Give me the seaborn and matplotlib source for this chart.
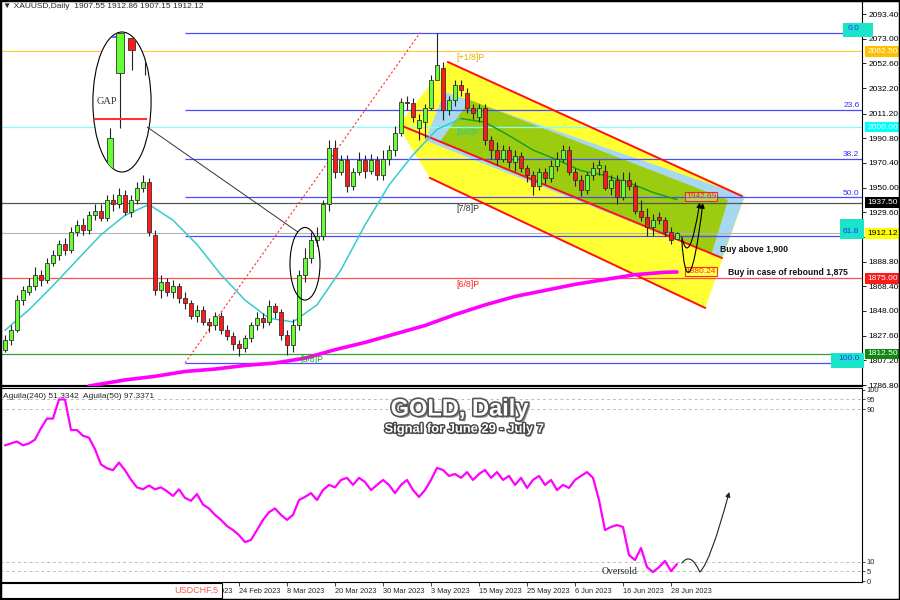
import numpy as np
import pandas as pd
import matplotlib
matplotlib.use("Agg")
import matplotlib.pyplot as plt
import matplotlib.patheffects as pe
from matplotlib.patches import Ellipse, Polygon, Rectangle, FancyArrowPatch
from matplotlib.path import Path
import seaborn as sns

# ---------------- data ----------------
opens = [1816, 1824, 1832, 1857, 1864, 1869, 1878, 1874, 1888, 1894,
         1903, 1898, 1913, 1919, 1915, 1927, 1931, 1925, 1940, 1936,
         1944, 1930, 1940, 1950, 1955, 1911, 1865, 1872, 1864, 1869,
         1859, 1855, 1844, 1849, 1839, 1836, 1844, 1832, 1827, 1821,
         1817, 1826, 1836, 1842, 1839, 1852, 1847, 1828, 1820, 1836,
         1878, 1892, 1907, 1910, 1936, 1983, 1963, 1973, 1951, 1963,
         1973, 1964, 1973, 1960, 1974, 1981, 1995, 2021, 2020, 1999,
         2004, 2016, 2039, 2049, 2014, 2022, 2035, 2028, 2016, 2008,
         2016, 1989, 1981, 1974, 1981, 1971, 1976, 1966, 1960, 1951,
         1963, 1958, 1968, 1974, 1981, 1963, 1956, 1948, 1960, 1966,
         1964, 1950, 1956, 1942, 1956, 1951, 1931, 1926, 1917, 1926,
         1923, 1913, 1907.55]
highs = [1828, 1836, 1861, 1869, 1875, 1884, 1882, 1892, 1898, 1907,
         1908, 1917, 1923, 1925, 1931, 1936, 1936, 1944, 1945, 1950,
         1948, 1944, 1955, 1960, 1958, 1915, 1878, 1875, 1874, 1871,
         1864, 1857, 1853, 1852, 1842, 1847, 1847, 1836, 1831, 1824,
         1828, 1839, 1847, 1846, 1857, 1855, 1850, 1832, 1841, 1882,
         1900, 1913, 1917, 1940, 1989, 1989, 1977, 1977, 1966, 1979,
         1977, 1978, 1976, 1981, 1985, 2001, 2024, 2026, 2024, 2011,
         2019, 2043, 2078, 2054, 2026, 2039, 2039, 2032, 2019, 2019,
         2019, 1993, 1988, 1985, 1984, 1981, 1979, 1969, 1964, 1966,
         1966, 1973, 1979, 1985, 1984, 1966, 1960, 1963, 1971, 1973,
         1969, 1960, 1960, 1963, 1963, 1955, 1940, 1933, 1928, 1930,
         1926, 1917, 1912.86]
lows = [1814, 1820, 1831, 1853, 1861, 1865, 1869, 1871, 1885, 1890,
        1894, 1896, 1910, 1911, 1912, 1923, 1922, 1922, 1931, 1933,
        1927, 1926, 1936, 1946, 1910, 1861, 1859, 1860, 1859, 1855,
        1850, 1841, 1839, 1836, 1831, 1832, 1829, 1824, 1816, 1811,
        1814, 1822, 1832, 1834, 1836, 1842, 1824, 1812, 1814, 1832,
        1872, 1888, 1902, 1907, 1931, 1958, 1960, 1946, 1948, 1960,
        1958, 1961, 1956, 1956, 1969, 1976, 1993, 2014, 2004, 1989,
        1991, 2014, 2039, 2006, 2010, 2017, 2026, 2012, 2007, 2004,
        1985, 1974, 1969, 1971, 1966, 1964, 1963, 1955, 1944, 1948,
        1953, 1955, 1964, 1971, 1960, 1951, 1943, 1945, 1956, 1960,
        1948, 1944, 1936, 1940, 1948, 1928, 1922, 1910, 1910, 1920,
        1910, 1903, 1907.15]
closes = [1824, 1832, 1857, 1865, 1869, 1878, 1874, 1888, 1894, 1903,
          1898, 1913, 1919, 1915, 1927, 1931, 1925, 1940, 1936, 1944,
          1930, 1940, 1950, 1955, 1913, 1865, 1872, 1864, 1869, 1859,
          1855, 1844, 1849, 1839, 1836, 1844, 1832, 1827, 1821, 1817,
          1826, 1836, 1842, 1839, 1852, 1847, 1828, 1820, 1836, 1878,
          1892, 1907, 1910, 1936, 1983, 1963, 1973, 1951, 1963, 1973,
          1964, 1973, 1960, 1974, 1981, 1995, 2021, 2020, 2008, 2006,
          2016, 2039, 2051, 2014, 2022, 2035, 2031, 2016, 2012, 2016,
          1989, 1981, 1974, 1981, 1971, 1976, 1966, 1960, 1951, 1963,
          1958, 1968, 1974, 1981, 1963, 1956, 1948, 1960, 1966, 1969,
          1950, 1956, 1942, 1956, 1951, 1931, 1926, 1917, 1923, 1923,
          1913, 1907, 1912.12]

# moving averages (sampled every few bars)
ma_fast_bars = [0, 4, 8, 12, 16, 20, 24, 28, 32, 36, 40, 44, 48, 52, 56,
                60, 64, 68, 72, 76, 80, 84, 88, 92, 96, 100, 104, 108, 112]
ma_fast = [1832, 1849, 1869, 1890, 1911, 1927, 1936, 1923, 1903, 1878, 1857,
           1842, 1839, 1853, 1882, 1919, 1952, 1977, 1998, 2007, 2004, 1993,
           1981, 1973, 1964, 1960, 1954, 1946, 1940]
ma_slow_bars = [14, 20, 25, 30, 35, 40, 45, 50, 55, 60, 65, 70, 75, 80, 85,
                90, 95, 100, 105, 110, 112]
ma_slow = [1786, 1791, 1794, 1798, 1800, 1803, 1805, 1809, 1816, 1822, 1829,
           1836, 1845, 1853, 1860, 1865, 1870, 1874, 1878, 1880, 1880.24]

# Aguila oscillator, one value per bar
aguila = [71, 72, 73, 71, 72, 74, 80, 85, 85, 95,
          95, 79, 79, 76, 75, 69, 61, 59, 58, 62,
          58, 53, 49, 48, 50, 48, 49, 47, 44.5, 48,
          43.5, 42, 45.5, 40, 38, 34.6, 32, 28.8, 26.7, 24,
          20.4, 21.5, 26.7, 32, 36, 38, 34.6, 32, 34.6, 42.4,
          44, 46, 42.4, 47.6, 50.3, 49, 52.9, 54, 50.3, 54,
          51.8, 47.6, 50.3, 52.9, 50.3, 46, 50.3, 52.9, 47.6, 44,
          47.6, 52.9, 59.2, 58.1, 55, 56, 54, 57, 52.9, 56,
          58.1, 54, 57, 52.9, 55, 50.3, 54, 48.7, 52.9, 55,
          50.3, 52.9, 47.6, 50.3, 48.7, 52.9, 55, 57, 54, 42.4,
          26.7, 28.3, 29.3, 28.3, 13.6, 11, 17.3, 7.3, 4.7, 7.3,
          10.5, 5.2, 8.9]

date_ticks = [31, 39, 47, 55, 63, 71, 79, 87, 95, 103, 111]
date_labels = ["14 Feb 2023", "24 Feb 2023", "8 Mar 2023", "20 Mar 2023",
               "30 Mar 2023", "3 May 2023", "15 May 2023", "25 May 2023",
               "6 Jun 2023", "16 Jun 2023", "28 Jun 2023"]
price_ticks = [2093.40, 2073.00, 2052.60, 2032.20, 2011.20, 1990.80, 1970.40,
               1950.00, 1929.60, 1909.20, 1888.80, 1868.40, 1848.00, 1827.60,
               1807.20, 1786.80]
osc_ticks = [0, 5, 10, 90, 95, 100]

fib_labels = ["0.0", "23.6", "38.2", "50.0", "61.8", "100.0"]
fib_prices = [2078, 2014, 1974, 1942, 1910, 1805]
murrey_labels = ["[+1/8]P", "[8/8]P", "[7/8]P", "[6/8]P", "[5/8]P"]
murrey_prices = [2062.50, 2000.00, 1937.50, 1875.00, 1812.50]

# drawing objects on the price chart (bar index, price)
yellow_zone = [(73.8, 2053.8), (123.3, 1943.0), (116.7, 1850.5), (70.8, 1958.0), (65.5, 2001.0)]
blue_zone = [(70.0, 1989.0), (73.3, 2029.0), (123.3, 1943.0), (119.5, 1891.8)]
green_zone = [(72.5, 1988.0), (77.5, 2022.4), (120.5, 1939.7), (117.8, 1895.9)]
channel_lines = [[(73.8, 2053.8), (122.8, 1943.0)],
                 [(65.8, 2001.7), (119.5, 1891.8)],
                 [(70.8, 1958.0), (116.7, 1850.5)]]

# ---------------- figure ----------------
sns.set_theme(style="white")
plt.rcParams["font.family"] = ["Liberation Sans", "DejaVu Sans"]

df = pd.DataFrame({"open": opens, "high": highs, "low": lows, "close": closes})
df["bar"] = np.arange(len(df))
up = df["close"] >= df["open"]

fig = plt.figure(figsize=(9, 6), dpi=100)
fig.patch.set_facecolor("white")
ax = fig.add_axes([0.0, 1 - 386 / 600, 862 / 900, 386 / 600])
axi = fig.add_axes([0.0, 1 - 582 / 600, 862 / 900, 194 / 600])

XMIN, XMAX = -0.83, 142.83
ax.set_xlim(XMIN, XMAX)
axi.set_xlim(XMIN, XMAX)
ax.set_ylim(1786.0, 2105.0)
axi.set_ylim(-0.5, 101.0)

# channel fills
ax.add_patch(Polygon(yellow_zone, closed=True, fc="#ffff33", ec="none", zorder=1))
ax.add_patch(Polygon(blue_zone, closed=True, fc="#a8d8f0", ec="none", zorder=1.1))
ax.add_patch(Polygon(green_zone, closed=True, fc="#9ccc10", ec="none", zorder=1.2))

# murrey / fib / level lines
murrey_colors = ["#ffcc44", "#7fffff", "#555555", "#ff5050", "#33a033"]
for p, col in zip(murrey_prices, murrey_colors):
    ax.axhline(p, color=col, lw=0.9, zorder=2)
ax.axhline(closes[-1], color="#b4b4b4", lw=0.8, zorder=2)
for p in fib_prices:
    ax.hlines(p, 30, XMAX, color="#4a4aff", lw=0.9, zorder=2)
ax.plot([30, 69.2], [fib_prices[-1], fib_prices[0]], ls=(0, (2, 2)),
        color="#ff3030", lw=0.8, zorder=2)

for seg in channel_lines:
    (x0, y0), (x1, y1) = seg
    ax.plot([x0, x1], [y0, y1], color="#ff1010", lw=1.4, zorder=3)

# moving averages
sns.lineplot(x=ma_fast_bars[:20], y=ma_fast[:20], ax=ax, color="#33cccc", lw=1.1, zorder=3)
sns.lineplot(x=ma_fast_bars[19:], y=ma_fast[19:], ax=ax, color="#1e9e1e", lw=1.1, zorder=3)
sns.lineplot(x=ma_slow_bars, y=ma_slow, ax=ax, color="#ff00ff", lw=2.6, zorder=3)

# candles
ax.vlines(df["bar"], df["low"], df["high"], color="#222222", lw=0.8, zorder=4)
ax.bar(df["bar"][up], (df["close"] - df["open"])[up].clip(lower=0.6),
       bottom=df["open"][up], width=0.62, color="#66ff33",
       edgecolor="#333333", lw=0.6, zorder=5)
ax.bar(df["bar"][~up], (df["open"] - df["close"])[~up].clip(lower=0.6),
       bottom=df["close"][~up], width=0.62, color="#ff1a1a",
       edgecolor="#333333", lw=0.6, zorder=5)

# murrey labels
mx = [75.2, 75.2, 75.2, 75.2, 49.2]
for lab, p, col, x in zip(murrey_labels, murrey_prices,
                          ["#e0b000", "#30c890", "#333333", "#ff2020", "#22a022"], mx):
    ax.text(x, p - 1, lab, color=col, fontsize=6.3, ha="left", va="top", zorder=8)

# fib labels
for lab, p in zip(fib_labels, fib_prices):
    if lab in ("0.0", "61.8", "100.0"):
        w = {"0.0": 5.0, "61.8": 4.0, "100.0": 5.5}[lab]
        lo = {"0.0": -3.6, "61.8": -2.5, "100.0": -4.1}[lab]
        hi = {"0.0": 8.0, "61.8": 14.0, "100.0": 8.3}[lab]
        ax.add_patch(Rectangle((143.2 - w + (1.5 if lab == "0.0" else 0), p + lo), w, hi - lo,
                               fc="#19e6c8", ec="none", zorder=8, clip_on=False))
    ax.text(142.4, p + 0.6, lab, color="#3030ff", fontsize=6, ha="right",
            va="bottom", zorder=9)

# right axis price labels
ax.yaxis.tick_right()
ax.set_yticks(price_ticks)
ax.set_yticklabels([f"{p:.2f}" for p in price_ticks])
ax.tick_params(axis="y", labelsize=6, length=3, width=0.6, pad=1.5,
               colors="black", right=True, direction="out")
ax.set_xticks([])

tr = ax.get_yaxis_transform()
boxes = [(2062.50, "2062.50", "#ffc000", "white"),
         (2000.00, "2000.00", "#00ffff", "white"),
         (1937.50, "1937.50", "black", "white"),
         (closes[-1], f"{closes[-1]:.2f}", "#ffff00", "black"),
         (1875.00, "1875.00", "#ff1a1a", "white"),
         (1812.50, "1812.50", "#118811", "white")]
for p, t, fc, tc in boxes:
    ax.text(1.006, p, t, transform=tr, fontsize=6, color=tc, ha="left",
            va="center", clip_on=False, zorder=20,
            bbox=dict(boxstyle="square,pad=0.22", fc=fc, ec="none"))

# GAP magnifier
gap_ell = Ellipse((19.5, 2020.7), 9.7, 115.7, fc="white", ec="black", lw=0.8, zorder=6)
ax.add_patch(gap_ell)
gap_parts = []
gap_parts.append(ax.hlines(2074.4, 16.7, 20.0, color="#4a4aff", lw=1.2, zorder=7))
gap_parts.append(ax.vlines(19.17, 1999.2, 2077.7, color="#222222", lw=0.8, zorder=7))
gap_parts.append(ax.add_patch(Rectangle((18.5, 2044.7), 1.33, 33.0, fc="#66ff33",
                                        ec="#333333", lw=0.6, zorder=8)))
gap_parts.append(ax.vlines(21.1, 2047.1, 2073.6, color="#222222", lw=0.8, zorder=7))
gap_parts.append(ax.add_patch(Rectangle((20.5, 2063.7), 1.2, 9.9, fc="#ff1a1a",
                                        ec="#333333", lw=0.6, zorder=8)))
gap_parts.append(ax.vlines(23.3, 2043.0, 2059.5, color="#222222", lw=0.8, zorder=7))
gap_parts.append(ax.vlines(17.5, 1966.2, 1999.2, color="#222222", lw=0.8, zorder=7))
gap_parts.append(ax.add_patch(Rectangle((17.0, 1966.2), 1.0, 24.7, fc="#66ff33",
                                        ec="#333333", lw=0.6, zorder=8)))
gap_parts.append(ax.hlines(2006.6, 13.8, 23.7, color="#ff3030", lw=1.5, zorder=7))
for art in gap_parts:
    art.set_clip_path(gap_ell)
ax.text(17.0, 2021, "GAP", family="Liberation Serif", fontsize=7.5,
        color="#333333", ha="center", va="center", zorder=9)
ax.plot([23.7, 48.8], [2000.0, 1913.3], color="#333333", lw=0.7, zorder=6)
ax.add_patch(Ellipse((50.0, 1887.0), 5.0, 60.0, fc="none", ec="black", lw=0.8, zorder=6))

# targets
ax.text(116.0, 1942.69, "1942.69", color="#e03030", fontsize=6, ha="center",
        va="center", zorder=9,
        bbox=dict(boxstyle="square,pad=0.12", fc=(1, 1, 1, 0.25), ec="#e03030", lw=0.8))
ax.text(116.0, 1880.24, "1880.24", color="#ff3300", fontsize=6, ha="center",
        va="center", zorder=9,
        bbox=dict(boxstyle="square,pad=0.12", fc=(1, 1, 1, 0.2), ec="#ff3300", lw=0.8))
ax.text(119.2, 1898.4, "Buy above 1,900", fontsize=6.2, weight="bold",
        color="#111111", ha="left", va="center", zorder=9)
ax.text(120.5, 1879.4, "Buy in case of rebound 1,875", fontsize=6.2,
        weight="bold", color="#111111", ha="left", va="center", zorder=9)

arrow1 = Path([(112.8, 1909.0), (114.0, 1882.0), (115.8, 1937.5)],
              [Path.MOVETO, Path.CURVE3, Path.CURVE3])
arrow2 = Path([(112.8, 1906.7), (113.3, 1868.0), (114.6, 1866.0), (116.3, 1937.2)],
              [Path.MOVETO, Path.CURVE4, Path.CURVE4, Path.CURVE4])
for pth in (arrow1, arrow2):
    ax.add_patch(FancyArrowPatch(path=pth, arrowstyle="-|>", mutation_scale=7,
                                 color="black", lw=0.8, zorder=9))

ax.text(3 / 862, 1 - 7 / 386, "\u25bc XAUUSD,Daily  1907.55 1912.86 1907.15 1912.12",
        transform=ax.transAxes, fontsize=6, ha="left", va="center", zorder=10)

for s in ax.spines.values():
    s.set_color("black")
    s.set_linewidth(0.8)
ax.spines["bottom"].set_linewidth(1.6)

# ---------------- oscillator panel ----------------
for v in [5, 10, 90, 95]:
    axi.axhline(v, color="#bdbdbd", lw=0.7, ls=(0, (3, 3)), zorder=1)
sns.lineplot(x=np.arange(len(aguila)), y=aguila, ax=axi, color="#ff00ff", lw=1.6, zorder=3)

osc_arrow = Path([(112.8, 9.4), (114.3, 15.5), (115.8, 4.7), (117.6, 10.0), (120.7, 46.6)],
                 [Path.MOVETO, Path.CURVE3, Path.CURVE3, Path.CURVE3, Path.CURVE3])
axi.add_patch(FancyArrowPatch(path=osc_arrow, arrowstyle="-|>", mutation_scale=7,
                              color="#222222", lw=0.8, zorder=4))
axi.text(102.5, 4.9, "Oversold", family="Liberation Serif", fontsize=7,
         ha="center", va="center", zorder=5)

shadow = [pe.SimplePatchShadow(offset=(1.6, -1.6), shadow_rgbFace="#333333", alpha=0.55),
          pe.Stroke(linewidth=2.4, foreground="#555555"), pe.Normal()]
axi.text(75.8, 90.0, "GOLD, Daily", fontsize=17, weight="heavy", color="white",
         ha="center", va="center", zorder=10, path_effects=shadow)
axi.text(76.5, 79.3, "Signal for June 29 - July 7", fontsize=9.3, weight="bold",
         color="white", ha="center", va="center", zorder=10,
         path_effects=[pe.SimplePatchShadow(offset=(1.2, -1.2), shadow_rgbFace="#333333", alpha=0.5),
                       pe.Stroke(linewidth=2.0, foreground="#444444"), pe.Normal()])
axi.text(3 / 862, 1 - 8 / 194, "Aguila(240) 51.3342  Aguila(50) 97.3371",
         transform=axi.transAxes, fontsize=6, ha="left", va="center", zorder=10)

axi.yaxis.tick_right()
axi.set_yticks(osc_ticks)
axi.set_yticklabels([str(t) for t in osc_ticks])
axi.tick_params(axis="y", labelsize=5.5, length=2, width=0.6, pad=1.5,
                right=True, direction="out")
axi.set_xticks(date_ticks)
axi.set_xticklabels(date_labels, ha="left")
axi.tick_params(axis="x", labelsize=5.3, length=3, width=0.6, pad=1.2,
                bottom=True, direction="out")
axi.set_xlabel("")
axi.set_ylabel("")
ax.set_xlabel("")
ax.set_ylabel("")
for s in axi.spines.values():
    s.set_color("black")
    s.set_linewidth(0.8)

# bottom-left symbol box and outer frame
fig.patches.append(Rectangle((0.0, 2 / 600), 222 / 900, 15 / 600, transform=fig.transFigure,
                             fc="white", ec="black", lw=0.8, zorder=10))
fig.text(218 / 900, 1 - 590 / 600, "USDCHF,5", color="#ff5555", fontsize=6.5,
         ha="right", va="center", zorder=11)
fig.patches.append(Rectangle((0, 0), 1, 1, transform=fig.transFigure, fill=False,
                             ec="black", lw=2.5, zorder=12))

fig.savefig("out.png", dpi=100)
